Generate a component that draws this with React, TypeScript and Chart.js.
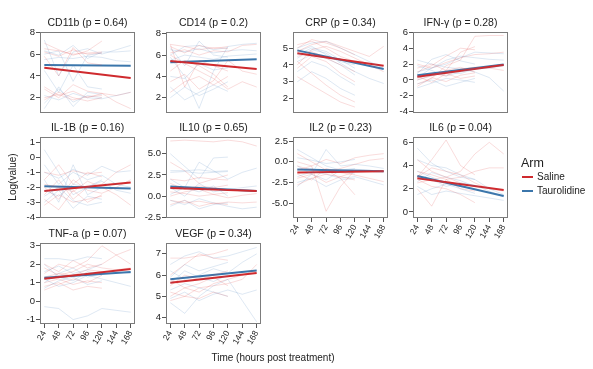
import React, { useEffect, useRef } from "react";
import { Chart, registerables } from "chart.js";

Chart.register(...registerables);

// ---------- data ----------
const hours = [24, 48, 72, 96, 120, 144, 168];
const trendHours = [24, 168];
const armNames = ["Saline", "Taurolidine"];
const xAxisTitle = "Time (hours post treatment)";
const yAxisTitle = "Log(value)";
const legendTitle = "Arm";

const cd11bSaline = [
  [6.5, 6.3, 6.0, 6.1, 6.2, null, null],
  [6.2, 5.8, 6.4, 6.0, 6.1, null, null],
  [2.0, 2.3, 1.8, 2.1, 2.2, null, null],
  [1.8, 2.5, 2.0, 1.7, 2.0, null, null],
  [2.8, 2.0, 3.2, 2.6, 2.4, 1.6, 1.0],
  [5.8, 4.0, 6.6, 5.2, 5.0, null, null],
  [3.0, 2.2, 2.6, 2.0, 2.4, 2.2, 2.5],
  [7.0, 6.4, 5.9, 6.3, 7.2, null, null],
];
const cd11bTaur = [
  [5.5, 5.7, 5.6, 5.8, 5.7, 5.4, 5.3],
  [7.3, 4.0, 6.2, 6.5, 6.0, 6.4, 6.8],
  [1.0, 3.0, 1.2, 2.5, 2.3, null, null],
  [2.2, 1.8, 2.4, 2.0, 1.9, 2.2, 2.5],
  [6.0, 6.3, 3.5, 5.9, 6.1, null, null],
  [4.5, 2.5, 5.0, 3.0, 2.8, null, null],
  [1.5, 2.8, 1.6, 2.2, 2.0, null, null],
  [6.3, 5.9, 6.8, 5.6, 6.2, 6.2, 6.3],
];
const cd11bTrendSaline = [4.75, 3.8];
const cd11bTrendTaur = [5.0, 4.94];

const cd14Saline = [
  [7.0, 6.8, 6.5, 6.7, 6.6, null, null],
  [6.8, 6.2, 6.9, 6.6, 6.8, null, null],
  [7.0, 3.0, 5.5, 5.0, 4.5, null, null],
  [4.5, 5.5, 5.0, 4.2, 3.0, null, null],
  [6.0, 5.2, 4.5, 3.8, 2.8, 3.5, 3.0],
  [2.5, 3.5, 4.0, 3.2, 4.0, null, null],
  [6.2, 6.5, 6.0, 6.4, 6.3, 6.9, 7.0],
  [3.5, 4.2, 2.8, 3.6, 5.5, 4.5, 4.2],
];
const cd14Taur = [
  [5.8, 4.0, 1.0, 4.5, 6.8, 7.0, 7.1],
  [3.0, 1.8, 2.5, 3.2, 2.6, null, null],
  [6.5, 6.3, 6.6, 6.2, 6.4, 6.5, 6.4],
  [6.7, 5.0, 7.3, 6.0, 5.8, null, null],
  [2.0, 3.0, 2.2, 2.8, 3.5, null, null],
  [5.5, 6.0, 5.8, 5.6, 5.9, 6.0, 6.1],
  [4.0, 3.8, 5.2, 4.6, 4.8, null, null],
  [6.0, 6.8, 6.9, 6.5, 6.7, null, null],
];
const cd14TrendSaline = [5.44, 4.7];
const cd14TrendTaur = [5.32, 5.6];

const crpSaline = [
  [5.0, 5.5, 5.3, 5.0, 4.6, null, null],
  [4.8, 5.2, 5.4, 5.1, 4.8, 4.5, 5.1],
  [3.3, 2.8, 2.3, 1.8, 1.5, null, null],
  [4.5, 4.8, 4.4, 4.0, 3.6, null, null],
  [5.2, 5.4, 5.0, 4.5, 4.2, null, null],
  [3.8, 4.5, 4.2, 3.5, 3.0, null, null],
  [4.2, 3.5, 2.8, 2.2, 1.8, null, null],
  [4.0, 4.9, 5.1, 4.8, 4.4, 4.0, 3.6],
];
const crpTaur = [
  [4.6, 5.0, 4.8, 4.3, 3.8, null, null],
  [5.0, 5.3, 5.4, 5.0, 4.6, 4.2, 3.8],
  [4.2, 4.6, 4.4, 4.0, 3.4, null, null],
  [3.6, 4.2, 3.9, 3.3, 2.8, null, null],
  [4.8, 5.1, 4.6, 4.2, 4.0, null, null],
  [3.0, 3.6, 3.2, 2.6, 2.2, null, null],
  [4.4, 4.9, 4.7, 4.1, 3.6, 3.2, 2.9],
];
const crpTrendSaline = [4.69, 3.95];
const crpTrendTaur = [4.86, 3.76];

const ifnSaline = [
  [0.0, 0.5, 1.2, 3.5, 4.2, null, null],
  [-0.5, 0.2, 1.8, 2.5, 5.5, 5.6, 5.6],
  [1.5, 2.0, 1.2, 1.6, 1.0, null, null],
  [0.5, -0.3, 0.8, 0.2, 0.5, null, null],
  [2.0, 1.5, 2.2, 2.8, 3.2, 3.3, 3.5],
  [-0.8, 0.3, -0.2, 0.6, 0.9, null, null],
  [1.0, 1.8, 3.0, 4.0, 3.8, null, null],
  [0.2, 0.8, 0.5, 1.4, 1.6, 1.5, 1.2],
];
const ifnTaur = [
  [1.0, 1.5, 2.5, 3.0, 2.8, 2.6, 2.5],
  [2.5, 2.0, 1.6, 1.4, 1.0, 0.3, -1.4],
  [-0.5, 0.0, -0.8, -0.3, 0.2, null, null],
  [0.8, 2.6, 3.2, 2.4, 2.0, null, null],
  [0.0, 0.6, 1.0, 0.8, 1.4, 1.5, 1.8],
  [1.8, 1.2, 0.5, 1.0, 1.5, null, null],
  [-1.0, -0.4, 0.2, 0.0, -0.3, null, null],
  [0.3, 1.5, 2.0, 2.8, 3.5, 3.4, 3.3],
];
const ifnTrendSaline = [0.41, 1.88];
const ifnTrendTaur = [0.58, 1.96];

const il1bSaline = [
  [-2.5, -1.5, -2.8, -2.0, -1.8, -1.0, -0.5],
  [-1.0, -1.2, -0.9, -1.1, -1.0, null, null],
  [-3.2, -2.5, -3.0, -2.8, -2.6, null, null],
  [-2.0, -2.8, -1.5, -2.2, -2.4, -2.0, -1.5],
  [-1.5, -0.5, -1.8, -1.0, -1.3, null, null],
  [-2.8, -3.5, -2.2, -3.0, -2.5, null, null],
  [-1.8, -2.0, -2.3, -1.6, -2.0, -2.5, -3.2],
];
const il1bTaur = [
  [0.5, -1.0, -2.5, -2.0, -1.5, null, null],
  [-1.0, -1.4, -0.8, -1.2, -0.6, -1.0, -0.9],
  [-3.0, -2.2, -3.4, -2.6, -2.8, null, null],
  [-2.2, -2.6, -1.8, -2.0, -1.6, -2.2, -2.4],
  [-1.5, -3.0, -0.5, -2.5, -2.0, null, null],
  [-2.6, -2.0, -2.9, -3.2, -3.0, null, null],
  [-0.5, -1.8, -1.0, -1.5, -1.2, -1.8, -2.0],
];
const il1bTrendSaline = [-2.25, -1.69];
const il1bTrendTaur = [-1.93, -2.09];

const il10Saline = [
  [6.5, 6.6, 6.5, 6.4, 6.6, 6.4, 5.9],
  [2.0, 1.8, 2.2, 2.0, 1.9, null, null],
  [0.5, 0.3, 0.0, 0.2, 0.4, null, null],
  [-0.5, -0.8, -0.6, -0.9, -0.7, -0.8, -0.7],
  [1.5, 0.8, 1.2, 1.0, 1.3, null, null],
  [-1.0, -0.5, -1.2, -0.8, -1.0, null, null],
  [4.0, 3.0, 1.5, 2.0, 2.5, null, null],
  [0.0, 0.5, 0.8, 0.2, -0.2, 0.1, 0.3],
];
const il10Taur = [
  [3.0, 3.0, 3.1, 2.9, 3.0, null, null],
  [2.8, 2.9, 2.7, 2.8, 2.9, null, null],
  [5.0, 3.5, 2.0, 4.5, 4.6, null, null],
  [1.0, 0.0, 1.5, 0.5, 0.8, 1.0, 1.2],
  [-0.5, -1.0, -0.3, -0.8, -1.2, -1.5, -1.3],
  [0.2, 1.0, 0.5, 1.2, 0.0, null, null],
  [2.0, 1.0, 4.0, 3.0, 2.0, 2.8, 3.3],
  [-1.2, -0.5, -1.5, -1.0, -0.8, null, null],
];
const il10TrendSaline = [0.95, 0.6];
const il10TrendTaur = [1.12, 0.6];

const il2Saline = [
  [-1.0, -0.5, -6.0, -3.0, -1.0, null, null],
  [0.0, -0.5, 0.3, -0.2, 0.5, 0.8, 1.0],
  [-2.0, -1.5, -2.5, -1.8, -1.2, null, null],
  [-1.5, -2.2, -0.8, -1.3, -1.6, -2.0, -2.4],
  [1.0, 0.0, -1.0, -2.0, -4.0, null, null],
  [-2.8, -2.0, -1.5, -1.8, -2.2, null, null],
  [-0.5, -1.0, -1.2, -0.8, -0.3, 0.2, 0.4],
];
const il2Taur = [
  [1.5, 0.5, -0.5, -1.0, -0.8, null, null],
  [-0.5, -1.5, 1.5, -0.5, -0.3, -0.5, -0.8],
  [-2.5, -2.0, -3.0, -2.2, -2.0, null, null],
  [0.5, 0.2, -0.2, 0.0, 0.3, null, null],
  [-1.8, -1.2, -1.5, -2.0, -1.8, -2.3, -2.8],
  [-3.0, -1.5, -2.2, -1.0, -1.5, null, null],
  [-1.0, -0.8, -1.3, -1.1, -0.9, -1.0, -1.2],
];
const il2TrendSaline = [-1.29, -1.13];
const il2TrendTaur = [-0.92, -1.13];

const il6Saline = [
  [3.0, 4.5, 6.2, 4.0, 3.2, null, null],
  [2.5, 2.8, 3.0, 3.5, 5.0, 6.0, 5.0],
  [4.5, 3.5, 3.0, 2.5, 2.2, null, null],
  [2.0, 0.5, 2.8, 2.0, 1.8, null, null],
  [3.5, 3.2, 2.8, 3.0, 3.5, 3.8, 3.8],
  [2.8, 2.2, 2.0, 1.5, 0.8, null, null],
  [3.0, 3.8, 3.5, 3.2, 2.5, 2.0, 1.8],
];
const il6Taur = [
  [5.5, 4.2, 3.5, 3.0, 2.8, 2.0, 1.5],
  [3.5, 3.0, 2.5, 2.2, 2.0, null, null],
  [2.2, 1.5, 1.8, 1.6, 1.4, 1.2, 1.0],
  [4.5, 4.0, 3.8, 3.2, 2.8, null, null],
  [1.5, 2.0, 2.4, 2.0, 1.6, null, null],
  [3.0, 2.8, 2.2, 2.5, 2.3, 1.8, 1.3],
  [2.6, 3.4, 3.0, 2.7, 2.2, null, null],
];
const il6TrendSaline = [2.9, 1.9];
const il6TrendTaur = [3.1, 1.38];

const tnfSaline = [
  [1.5, 2.0, 1.8, 2.2, 3.0, 2.5, 2.0],
  [1.0, 1.2, 0.9, 1.1, 1.0, null, null],
  [2.0, 1.6, 2.2, 1.8, 2.0, 2.5, 2.8],
  [0.8, 1.0, 0.6, 0.8, 0.7, null, null],
  [1.3, 1.5, 1.4, 1.7, 1.6, null, null],
  [0.6, 0.9, 1.2, 1.0, 1.4, null, null],
  [1.8, 1.4, 1.6, 2.0, 1.8, 1.7, 1.8],
];
const tnfTaur = [
  [-0.3, -0.4, -1.0, -0.8, -0.4, -0.5, -0.6],
  [2.3, 2.3, 2.2, 2.4, 2.3, null, null],
  [1.2, 0.8, 1.0, 1.4, 1.2, 1.0, 0.8],
  [1.6, 1.9, 1.5, 1.7, 2.0, null, null],
  [0.7, 1.1, 1.3, 0.9, 1.1, null, null],
  [1.0, 1.5, 1.8, 1.3, 1.5, 1.6, 1.5],
  [2.0, 1.3, 1.1, 1.6, 1.4, null, null],
];
const tnfTrendSaline = [1.21, 1.74];
const tnfTrendTaur = [1.27, 1.58];

const vegfSaline = [
  [6.0, 6.5, 7.0, 6.8, 6.7, null, null],
  [5.2, 5.0, 5.4, 5.5, 5.6, 5.8, 6.5],
  [5.5, 6.0, 5.8, 6.0, 6.2, null, null],
  [4.8, 5.0, 4.9, 5.2, 5.0, null, null],
  [6.8, 6.8, 6.9, 7.0, 7.2, null, null],
  [5.0, 5.4, 5.2, 5.6, 5.8, 6.0, 6.2],
  [5.8, 5.4, 5.6, 5.9, 5.5, null, null],
];
const vegfTaur = [
  [4.7, 4.2, 5.0, 5.5, 5.8, 4.8, 3.8],
  [6.5, 6.9, 7.1, 6.8, 6.9, 7.1, 7.3],
  [5.3, 5.6, 5.4, 5.2, 5.0, null, null],
  [5.9, 6.5, 6.2, 6.4, 6.6, null, null],
  [4.9, 5.2, 4.8, 5.1, 5.3, 5.1, 5.3],
  [6.2, 5.8, 6.0, 6.3, 6.1, 6.6, 7.0],
  [5.6, 6.2, 5.9, 5.7, 6.0, null, null],
];
const vegfTrendSaline = [5.64, 6.1];
const vegfTrendTaur = [5.8, 6.22];

const cd11bTicks = [2, 4, 6, 8];
const cd14Ticks = [2, 4, 6, 8];
const crpTicks = [2, 3, 4, 5];
const ifnTicks = [-4, -2, 0, 2, 4, 6];
const il1bTicks = [-4, -3, -2, -1, 0, 1];
const il10Ticks = [-2.5, 0, 2.5, 5];
const il2Ticks = [-5, -2.5, 0, 2.5];
const il6Ticks = [0, 2, 4, 6];
const tnfTicks = [-1, 0, 1, 2, 3];
const vegfTicks = [4, 5, 6, 7];

// ---------- panel definitions (built from the arrays above) ----------
type PanelDef = {
  title: string;
  saline: (number | null)[][];
  taur: (number | null)[][];
  trendS: number[];
  trendT: number[];
  yMin: number;
  yMax: number;
  ticks: number[];
  dec: number;
  col: number;
  row: number;
  showX: boolean;
};

const panels: PanelDef[] = [
  { title: "CD11b (p = 0.64)", saline: cd11bSaline, taur: cd11bTaur, trendS: cd11bTrendSaline, trendT: cd11bTrendTaur, yMin: 0.6, yMax: 8.03, ticks: cd11bTicks, dec: 0, col: 0, row: 0, showX: false },
  { title: "CD14 (p = 0.2)", saline: cd14Saline, taur: cd14Taur, trendS: cd14TrendSaline, trendT: cd14TrendTaur, yMin: 0.57, yMax: 8.16, ticks: cd14Ticks, dec: 0, col: 1, row: 0, showX: false },
  { title: "CRP (p = 0.34)", saline: crpSaline, taur: crpTaur, trendS: crpTrendSaline, trendT: crpTrendTaur, yMin: 1.15, yMax: 5.95, ticks: crpTicks, dec: 0, col: 2, row: 0, showX: false },
  { title: "IFN-γ (p = 0.28)", saline: ifnSaline, taur: ifnTaur, trendS: ifnTrendSaline, trendT: ifnTrendTaur, yMin: -4.16, yMax: 6.04, ticks: ifnTicks, dec: 0, col: 3, row: 0, showX: false },
  { title: "IL-1B (p = 0.16)", saline: il1bSaline, taur: il1bTaur, trendS: il1bTrendSaline, trendT: il1bTrendTaur, yMin: -4.05, yMax: 1.35, ticks: il1bTicks, dec: 0, col: 0, row: 1, showX: false },
  { title: "IL10 (p = 0.65)", saline: il10Saline, taur: il10Taur, trendS: il10TrendSaline, trendT: il10TrendTaur, yMin: -2.58, yMax: 6.97, ticks: il10Ticks, dec: 1, col: 1, row: 1, showX: false },
  { title: "IL2 (p = 0.23)", saline: il2Saline, taur: il2Taur, trendS: il2TrendSaline, trendT: il2TrendTaur, yMin: -6.82, yMax: 3.02, ticks: il2Ticks, dec: 1, col: 2, row: 1, showX: true },
  { title: "IL6 (p = 0.04)", saline: il6Saline, taur: il6Taur, trendS: il6TrendSaline, trendT: il6TrendTaur, yMin: -0.52, yMax: 6.46, ticks: il6Ticks, dec: 0, col: 3, row: 1, showX: true },
  { title: "TNF-a (p = 0.07)", saline: tnfSaline, taur: tnfTaur, trendS: tnfTrendSaline, trendT: tnfTrendTaur, yMin: -1.24, yMax: 3.15, ticks: tnfTicks, dec: 0, col: 0, row: 2, showX: true },
  { title: "VEGF (p = 0.34)", saline: vegfSaline, taur: vegfTaur, trendS: vegfTrendSaline, trendT: vegfTrendTaur, yMin: 3.7, yMax: 7.51, ticks: vegfTicks, dec: 0, col: 1, row: 2, showX: true },
];

// ---------- layout / style ----------
const colLeft = [40, 166, 293, 413];
const rowTop = [32, 137, 243];
const boxW = 95;
const boxH = 81;
const padTop = 26;
const yAxisW = 40;
const padRight = 6;
const xAxisH = 36;
const padBottomNoX = 3;

const RED = "#CF2A2E";
const BLUE = "#3B76AB";
const RED_FAINT = "rgba(220,60,60,0.18)";
const BLUE_FAINT = "rgba(70,130,190,0.18)";
const FONT = '"Liberation Sans", Arial, Helvetica, sans-serif';
const TEXT = "#222222";

Chart.defaults.font.family = FONT;

const toPts = (arr: (number | null)[]) =>
  arr
    .map((v, i) => ({ x: hours[i], y: v }))
    .filter((p) => p.y !== null) as { x: number; y: number }[];

const framePlugin = (title: string) => ({
  id: "frameTitle",
  afterDatasetsDraw(chart: any) {
    const { ctx, chartArea: a } = chart;
    ctx.save();
    ctx.strokeStyle = "#7c7c7c";
    ctx.lineWidth = 1;
    const l = Math.round(a.left), t = Math.round(a.top);
    const w = Math.round(a.right - a.left), h = Math.round(a.bottom - a.top);
    ctx.strokeRect(l + 0.5, t + 0.5, w - 1, h - 1);
    ctx.fillStyle = TEXT;
    ctx.font = `10.5px ${FONT}`;
    ctx.textAlign = "center";
    ctx.textBaseline = "middle";
    ctx.fillText(title, (a.left + a.right) / 2, a.top - 9);
    ctx.restore();
  },
});

function Panel({ p }: { p: PanelDef }) {
  const ref = useRef<HTMLCanvasElement | null>(null);
  const width = yAxisW + boxW + padRight;
  const height = padTop + boxH + (p.showX ? xAxisH : padBottomNoX);
  const left = colLeft[p.col] - yAxisW;
  const top = rowTop[p.row] - padTop;

  useEffect(() => {
    if (!ref.current) return;
    const datasets: any[] = [];
    p.saline.forEach((s) =>
      datasets.push({ data: toPts(s), borderColor: RED_FAINT, borderWidth: 1, pointRadius: 0, tension: 0, fill: false })
    );
    p.taur.forEach((s) =>
      datasets.push({ data: toPts(s), borderColor: BLUE_FAINT, borderWidth: 1, pointRadius: 0, tension: 0, fill: false })
    );
    datasets.push({
      label: armNames[0],
      data: trendHours.map((h, i) => ({ x: h, y: p.trendS[i] })),
      borderColor: RED, borderWidth: 2, pointRadius: 0, fill: false,
    });
    datasets.push({
      label: armNames[1],
      data: trendHours.map((h, i) => ({ x: h, y: p.trendT[i] })),
      borderColor: BLUE, borderWidth: 2, pointRadius: 0, fill: false,
    });

    const chart = new Chart(ref.current, {
      type: "line",
      data: { datasets },
      options: {
        animation: false,
        responsive: false,
        maintainAspectRatio: false,
        events: [],
        layout: { padding: { left: 0, top: padTop, right: padRight, bottom: p.showX ? 0 : padBottomNoX } },
        plugins: { legend: { display: false }, tooltip: { enabled: false }, title: { display: false } },
        scales: {
          x: {
            type: "linear",
            min: 16.8,
            max: 175.2,
            display: p.showX,
            afterBuildTicks: (s: any) => {
              s.ticks = hours.map((v) => ({ value: v }));
            },
            afterFit: (s: any) => {
              s.height = p.showX ? xAxisH : 0;
              s.paddingLeft = 0;
              s.paddingRight = 0;
            },
            ticks: {
              minRotation: 60,
              maxRotation: 60,
              autoSkip: false,
              padding: 1,
              color: TEXT,
              font: { size: 8.5, family: FONT },
              callback: (v: any) => String(v),
            },
            grid: { drawOnChartArea: false, drawTicks: true, tickLength: 4, color: "#555555" },
            border: { display: false },
          },
          y: {
            type: "linear",
            min: p.yMin,
            max: p.yMax,
            afterBuildTicks: (s: any) => {
              s.ticks = p.ticks.map((v) => ({ value: v }));
            },
            afterFit: (s: any) => {
              s.width = yAxisW;
              s.paddingTop = 0;
              s.paddingBottom = 0;
            },
            ticks: {
              padding: 1,
              color: TEXT,
              font: { size: 9.5, family: FONT },
              callback: (v: any) => Number(v).toFixed(p.dec),
            },
            grid: { drawOnChartArea: false, drawTicks: true, tickLength: 4, color: "#555555" },
            border: { display: false },
          },
        },
      } as any,
      plugins: [framePlugin(p.title)],
    });
    return () => chart.destroy();
  }, [p]);

  return (
    <canvas
      ref={ref}
      width={width}
      height={height}
      style={{ position: "absolute", left, top, width, height }}
    />
  );
}

export default function App() {
  return (
    <div
      style={{
        position: "absolute",
        left: 0,
        top: 0,
        width: 593,
        height: 369,
        background: "#ffffff",
        overflow: "hidden",
        fontFamily: FONT,
        color: TEXT,
      }}
    >
      {panels.map((p) => (
        <Panel key={p.title} p={p} />
      ))}
      <div
        style={{
          position: "absolute",
          left: 12,
          top: 177,
          transform: "translate(-50%, -50%) rotate(-90deg)",
          fontSize: 10,
          whiteSpace: "nowrap",
        }}
      >
        {yAxisTitle}
      </div>
      <div
        style={{
          position: "absolute",
          left: 273,
          top: 357,
          transform: "translate(-50%, -50%)",
          fontSize: 10,
          whiteSpace: "nowrap",
        }}
      >
        {xAxisTitle}
      </div>
      <div style={{ position: "absolute", left: 521, top: 155, fontSize: 12.5, lineHeight: "16px" }}>{legendTitle}</div>
      {armNames.map((n, i) => (
        <React.Fragment key={n}>
          <div
            style={{
              position: "absolute",
              left: 522,
              top: 176 + i * 14,
              width: 11,
              height: 2,
              background: i === 0 ? RED : BLUE,
            }}
          />
          <div
            style={{
              position: "absolute",
              left: 537,
              top: 170 + i * 14,
              fontSize: 10,
              lineHeight: "14px",
              whiteSpace: "nowrap",
            }}
          >
            {n}
          </div>
        </React.Fragment>
      ))}
    </div>
  );
}
